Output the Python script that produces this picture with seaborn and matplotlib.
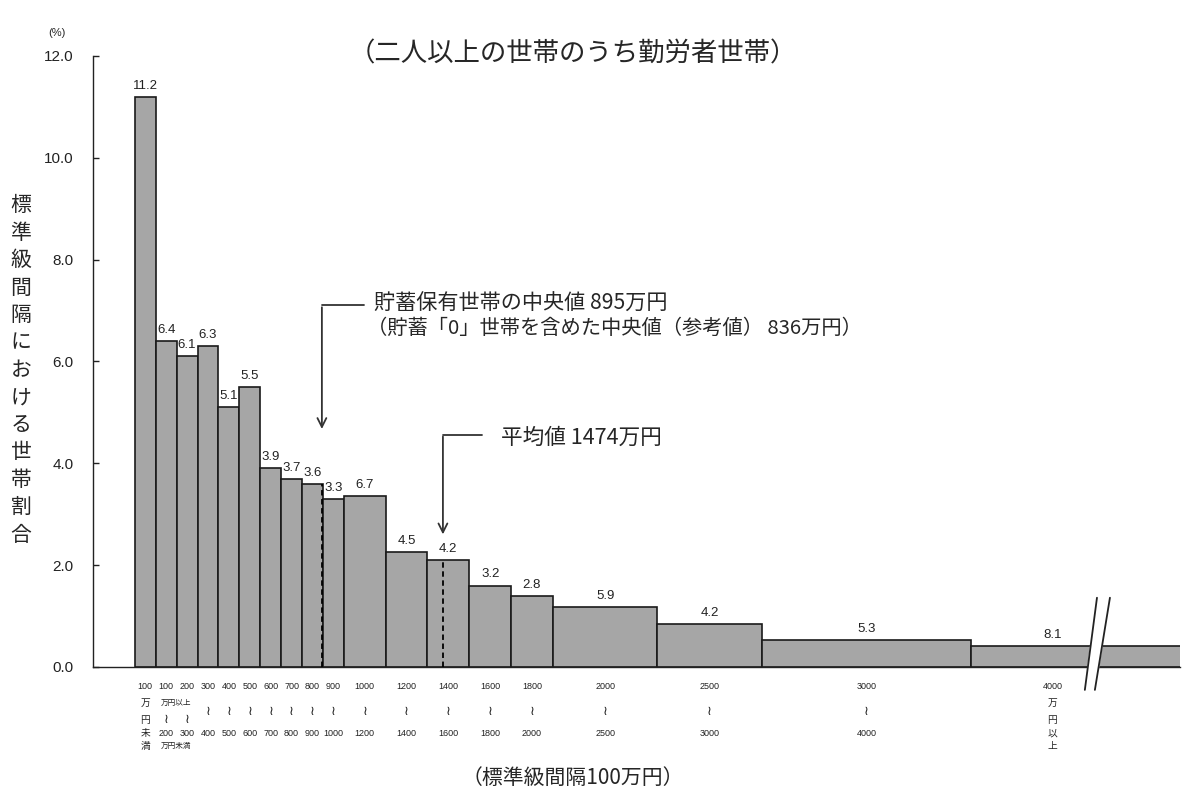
import numpy as np
import pandas as pd
import matplotlib
matplotlib.use('Agg')
import matplotlib.pyplot as plt
import seaborn as sns

# 貯蓄現在高階級 (万円) の境界と世帯割合 (%)
edges = [0, 100, 200, 300, 400, 500, 600, 700, 800, 900, 1000,
         1200, 1400, 1600, 1800, 2000, 2500, 3000, 4000, 6000]
shares = [11.2, 6.4, 6.1, 6.3, 5.1, 5.5, 3.9, 3.7, 3.6, 3.3, 6.7,
          4.5, 4.2, 3.2, 2.8, 5.9, 4.2, 5.3, 8.1]
tick_top = ['100', '100', '200', '300', '400', '500', '600', '700', '800', '900',
            '1000', '1200', '1400', '1600', '1800', '2000', '2500', '3000', '4000']
tick_bottom = ['', '200', '300', '400', '500', '600', '700', '800', '900', '1000',
               '1200', '1400', '1600', '1800', '2000', '2500', '3000', '4000', '']
median_val = 895
mean_val = 1474

sns.set_style('white')
plt.rcParams['font.family'] = ['Noto Sans CJK JP', 'DejaVu Sans']
num_font = ['Liberation Sans', 'Noto Sans CJK JP', 'DejaVu Sans']

edges_a = np.array(edges, dtype=float)
widths = np.diff(edges_a) / 100
heights = np.array(shares) / widths
mids = (edges_a[:-1] + edges_a[1:]) / 2
df = pd.DataFrame({'mid': mids, 'density': heights})

fig = plt.figure(figsize=(12, 8.01), dpi=100)
ax = fig.add_axes([0.0775, 0.1673, 0.9058, 0.7628])

sns.histplot(data=df, x='mid', weights='density', bins=edges, color='#a6a6a6',
             edgecolor='#1a1a1a', linewidth=1.2, alpha=1, ax=ax)

ax.set_xlim(-200, 5000)
ax.set_ylim(0, 12)
ax.set_xlabel('')
ax.set_ylabel('')
ax.set_xticks([])
ax.set_yticks(np.arange(0, 12.1, 2))
ax.set_yticklabels([f'{v:.1f}' for v in np.arange(0, 12.1, 2)], fontsize=11, family=num_font)
ax.tick_params(axis='y', direction='in', length=4, width=1, pad=14, left=True, colors='#222')
for s in ['top', 'right']:
    ax.spines[s].set_visible(False)
for s in ['left', 'bottom']:
    ax.spines[s].set_color('#222')
    ax.spines[s].set_linewidth(1)

# 値ラベル
for i, (m, h, s) in enumerate(zip(mids, heights, shares)):
    x = m if i < len(shares) - 1 else 4390
    ax.text(x, h + 0.1, f'{s:.1f}', ha='center', va='bottom', fontsize=9.5,
            family=num_font, color='#222')

# 中央値・平均値の破線
for v in [median_val, mean_val]:
    k = np.searchsorted(edges_a, v) - 1
    ax.plot([v, v], [0, heights[k]], ls=(0, (3, 2)), color='black', lw=1.3, zorder=5)

# 矢印と注記
arrow_kw = dict(arrowstyle='->', lw=1.3, color='#333', mutation_scale=16)
ax.plot([median_val, 1095], [7.1, 7.1], color='#333', lw=1.3)
ax.annotate('', xy=(median_val, 4.62), xytext=(median_val, 7.12), arrowprops=arrow_kw)
ax.text(1145, 7.14, '貯蓄保有世帯の中央値 895万円', fontsize=15.2, va='center', ha='left')
ax.text(1110, 6.64, '（貯蓄「0」世帯を含めた中央値（参考値） 836万円）', fontsize=14.6,
        va='center', ha='left')
ax.plot([mean_val, 1660], [4.56, 4.56], color='#333', lw=1.3)
ax.annotate('', xy=(mean_val, 2.55), xytext=(mean_val, 4.58), arrowprops=arrow_kw)
ax.text(1750, 4.5, '平均値 1474万円', fontsize=15.6, va='center', ha='left')

# 横軸の省略記号
ax.fill([4545, 4603, 4665, 4593], [-0.45, 1.36, 1.36, -0.45], color='white',
        zorder=6, clip_on=False)
ax.plot([4545, 4603], [-0.45, 1.36], color='#222', lw=1.3, zorder=7, clip_on=False)
ax.plot([4593, 4665], [-0.45, 1.36], color='#222', lw=1.3, zorder=7, clip_on=False)

# 階級ラベル
r1, r2, rt, r3, r4, r5 = -0.39, -0.71, -0.88, -1.04, -1.30, -1.55
small = dict(ha='center', va='center', fontsize=6.5, family=num_font, color='#222',
             clip_on=False)
wave = dict(small, family=['DejaVu Sans'], fontsize=9.5)
n = len(shares)
for i in range(n):
    m = mids[i] if i < n - 1 else 4390
    ax.text(m, r1, tick_top[i], **small)
    if i == 0 or i == n - 1:
        chars = '万円未満' if i == 0 else '万円以上'
        for c, r in zip(chars, [r2, r3, r4, r5]):
            ax.text(m, r, c, **dict(small, fontsize=7))
    elif i in (1, 2):
        ax.text(m, r3, '\u2240', **wave)
        ax.text(m, r4, tick_bottom[i], **small)
    else:
        ax.text(m, rt, '\u2240', **wave)
        ax.text(m, r4, tick_bottom[i], **small)
ax.text(195, r2, '万円以上', **dict(small, fontsize=5.5))
ax.text(195, r5, '万円未満', **dict(small, fontsize=5.5))

fig.text(0.477, 0.932, '（二人以上の世帯のうち勤労者世帯）', fontsize=19, ha='center', va='center')
fig.text(0.0475, 0.959, '(%)', fontsize=8, ha='center', va='center', family=num_font)
fig.text(0.477, 0.029, '（標準級間隔100万円）', fontsize=15, ha='center', va='center')
fig.text(0.0175, 0.538, '\n'.join('標準級間隔における世帯割合'), fontsize=15,
         ha='center', va='center', linespacing=1.32)

fig.savefig('out.png', dpi=100)
